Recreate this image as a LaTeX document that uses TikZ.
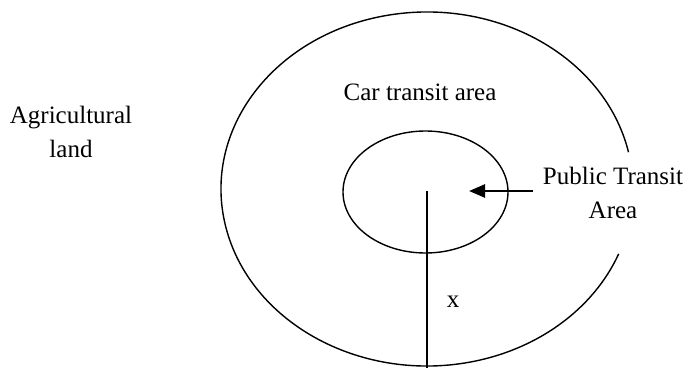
\documentclass[tikz,border=0pt]{standalone}
\usepackage{fontspec}
\setmainfont{Liberation Serif}
\usetikzlibrary{arrows.meta,shapes.geometric,calc}
\begin{document}
\begin{tikzpicture}[x=1pt,y=1pt,
  ring/.style={line width=1.4pt},
  lbl/.style={font=\fontsize{25}{34}\selectfont, align=center, inner sep=0pt},
  pointer/.style={line width=2.6pt, -{Triangle[length=16pt,width=13pt]}}]
\useasboundingbox (0,0) rectangle (688,368);
% outer ring with gap on the right
\coordinate (oc) at (427,179);
\draw[ring] ($(oc)+({206*cos(12)},{177*sin(12)})$) arc[start angle=12, end angle=338.5, x radius=206, y radius=177];
% inner ellipse
\node[ring, draw, ellipse, minimum width=165pt, minimum height=122pt, inner sep=0pt] (inner) at (425.5,176) {};
% radius line
\coordinate (ctr) at (427,177);
\coordinate (bot) at (427,0);
\draw[line width=1.4pt] (ctr) -- (bot);
% arrow
\coordinate (arrtail) at (533,177);
\coordinate (arrtip) at (469,177);
\draw[pointer] (arrtail) -- (arrtip);
% labels
\node[lbl, anchor=base] (car) at (420,268) {Car transit area};
\node[lbl] (agri) at (71,236) {Agricultural\\land};
\node[lbl] (pub) at (613,175) {Public Transit\\Area};
\node[lbl, anchor=base] (xlab) at (453,61) {x};
\end{tikzpicture}
\end{document}
